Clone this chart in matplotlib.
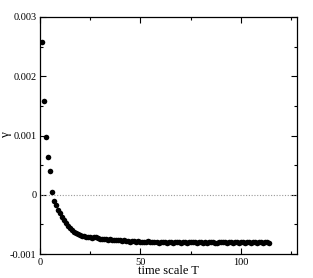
import matplotlib
matplotlib.use('Agg')
import matplotlib.pyplot as plt
from matplotlib.ticker import MultipleLocator

plt.rcParams['font.family'] = ['Liberation Serif', 'DejaVu Serif']

# gamma values (units of 1e-3) for T = 1, 2, 3, ...
gamma_e3 = [
    2.58, 1.58, 0.98, 0.64, 0.40, 0.04, -0.10, -0.17, -0.25, -0.31,
    -0.37, -0.42, -0.47, -0.52, -0.56, -0.59, -0.62, -0.64, -0.66, -0.68,
    -0.69, -0.70, -0.71, -0.71, -0.72, -0.73, -0.72, -0.71, -0.73, -0.74,
    -0.74, -0.75, -0.75, -0.76, -0.75, -0.76, -0.77, -0.76, -0.77, -0.77,
    -0.78, -0.77, -0.78, -0.78, -0.79, -0.78, -0.78, -0.79, -0.78, -0.79,
    -0.79, -0.80, -0.79, -0.78, -0.80, -0.80, -0.79, -0.80, -0.81, -0.80,
    -0.79, -0.80, -0.81, -0.80, -0.80, -0.81, -0.80, -0.79, -0.80, -0.81,
    -0.80, -0.80, -0.81, -0.80, -0.79, -0.80, -0.80, -0.81, -0.80, -0.80,
    -0.81, -0.80, -0.81, -0.80, -0.79, -0.80, -0.81, -0.81, -0.80, -0.80,
    -0.79, -0.80, -0.81, -0.80, -0.80, -0.81, -0.80, -0.80, -0.81, -0.80,
    -0.80, -0.81, -0.80, -0.80, -0.81, -0.80, -0.80, -0.81, -0.80, -0.80,
    -0.81, -0.80, -0.80, -0.81,
]
T = list(range(1, len(gamma_e3) + 1))
gamma = [g * 1e-3 for g in gamma_e3]

ytick_vals = [-0.001, 0, 0.001, 0.002, 0.003]
ytick_labels = ['-0.001', '0', '0.001', '0.002', '0.003']
xtick_vals = [0, 50, 100]

fig = plt.figure(figsize=(3.13, 2.78), dpi=100)
ax = fig.add_axes([0.128, 0.086, 0.821, 0.853])

ax.axhline(0, color='#999999', lw=0.8, ls=(0, (1, 1.5)))
ax.plot(T, gamma, 'o', color='black', markersize=4, markeredgewidth=0)

ax.set_xlim(0, 128)
ax.set_ylim(-0.001, 0.003)
ax.set_xticks(xtick_vals)
ax.set_xticklabels([str(v) for v in xtick_vals])
ax.set_yticks(ytick_vals)
ax.set_yticklabels(ytick_labels)
ax.xaxis.set_minor_locator(MultipleLocator(25))
ax.yaxis.set_minor_locator(MultipleLocator(0.0005))
ax.tick_params(which='both', direction='in', top=True, right=True, labelsize=7.5, width=0.8)
ax.tick_params(which='major', length=4, pad=2.5)
ax.tick_params(which='minor', length=2)
for s in ax.spines.values():
    s.set_linewidth(0.9)

ax.set_xlabel('time scale T', fontsize=9)
ax.xaxis.set_label_coords(0.5, -0.048)
ax.set_ylabel('γ', fontsize=9.5)
ax.yaxis.set_label_coords(-0.108, 0.5)

plt.savefig('out.png', dpi=100)
